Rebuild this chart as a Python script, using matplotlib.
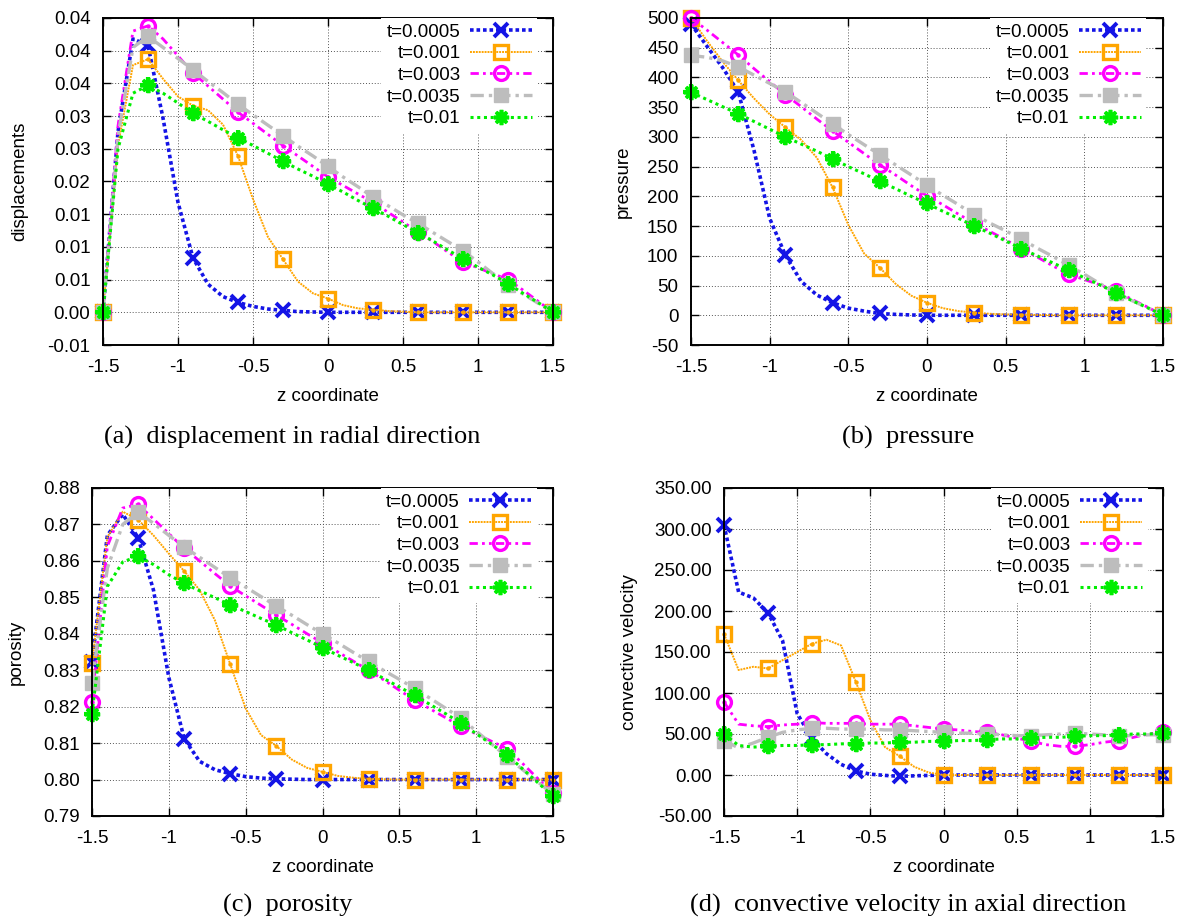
import numpy as np
import matplotlib
matplotlib.use('Agg')
import matplotlib.pyplot as plt

plt.rcParams['font.family'] = ['Liberation Sans', 'DejaVu Sans']

# z coordinate of the samples (markers are drawn on every third one)
z = [-1.5, -1.4, -1.3, -1.2, -1.1, -1.0, -0.9, -0.8, -0.7, -0.6, -0.5,
     -0.4, -0.3, -0.2, -0.1, 0.0, 0.1, 0.2, 0.3, 0.4, 0.5,
     0.6, 0.7, 0.8, 0.9, 1.0, 1.1, 1.2, 1.3, 1.4, 1.5]

labels = ['t=0.0005', 't=0.001', 't=0.003', 't=0.0035', 't=0.01']

# (a) displacement in radial direction
disp_0005 = [0, 0.0276, 0.0418, 0.0408, 0.0297, 0.0168, 0.0083, 0.0043, 0.0024, 0.0015, 0.0009,
             0.0005, 0.0003, 0.0001, 0.00005, 0, 0, 0, 0, 0, 0,
             0, 0, 0, 0, 0, 0, 0, 0, 0, 0]
disp_001 = [0, 0.0256, 0.0378, 0.0387, 0.0357, 0.0330, 0.0316, 0.0309, 0.0287, 0.0239, 0.0173,
            0.0115, 0.0081, 0.0047, 0.0029, 0.0021, 0.0011, 0.0006, 0.0004, 0.0002, 0.0001,
            0, 0, 0, 0, 0, 0, 0, 0, 0, 0]
disp_003 = [0, 0.0285, 0.0430, 0.0438, 0.0418, 0.0392, 0.0366, 0.0346, 0.0326, 0.0306, 0.0289,
            0.0272, 0.0255, 0.0239, 0.0223, 0.0207, 0.0194, 0.0181, 0.0168, 0.0153, 0.0138,
            0.0123, 0.0108, 0.0092, 0.0077, 0.0068, 0.0059, 0.0050, 0.0034, 0.0017, 0]
disp_0035 = [0, 0.0270, 0.0405, 0.0422, 0.0405, 0.0388, 0.0371, 0.0353, 0.0336, 0.0318, 0.0302,
             0.0286, 0.0270, 0.0254, 0.0239, 0.0223, 0.0207, 0.0192, 0.0176, 0.0163, 0.0149,
             0.0136, 0.0122, 0.0108, 0.0094, 0.0077, 0.0059, 0.0042, 0.0028, 0.0014, 0]
disp_01 = [0, 0.0250, 0.0335, 0.0347, 0.0335, 0.0320, 0.0304, 0.0292, 0.0279, 0.0267, 0.0255,
           0.0243, 0.0231, 0.0219, 0.0208, 0.0196, 0.0184, 0.0171, 0.0159, 0.0147, 0.0134,
           0.0122, 0.0109, 0.0095, 0.0082, 0.0069, 0.0057, 0.0044, 0.0029, 0.0015, 0]

# (b) pressure
pres_0005 = [490, 453, 417, 376, 278, 163, 101, 57, 34, 21, 12,
             7, 3, 1.5, 0.5, 0, 0, 0, 0, 0, 0,
             0, 0, 0, 0, 0, 0, 0, 0, 0, 0]
pres_001 = [500, 462, 427, 395, 365, 338, 316, 295, 265, 215, 152,
            104, 80, 53, 33, 21, 12, 7, 4.5, 2.5, 1.5,
            1, 0.5, 0, 0, 0, 0, 0, 0, 0, 0]
pres_003 = [500, 480, 459, 438, 415, 393, 371, 351, 330, 310, 291,
            272, 253, 236, 218, 201, 186, 170, 155, 141, 127,
            112, 98, 83, 69, 60, 51, 41, 27, 14, 0]
pres_0035 = [437, 434, 428, 418, 404, 390, 376, 358, 340, 322, 304,
             287, 270, 253, 236, 219, 202, 186, 169, 155, 142,
             128, 113, 99, 84, 69, 53, 38, 25, 13, 0]
pres_01 = [375, 363, 351, 339, 326, 313, 300, 288, 276, 263, 250,
           238, 225, 213, 200, 188, 175, 163, 150, 138, 125,
           112, 100, 88, 76, 63, 51, 38, 25, 13, 0]

# (c) porosity
poro_0005 = [0.8323, 0.8670, 0.8728, 0.8664, 0.8520, 0.8280, 0.8112, 0.8050, 0.8027, 0.8016, 0.8008,
             0.8004, 0.8002, 0.8001, 0.8000, 0.8000, 0.8000, 0.8000, 0.8000, 0.8000, 0.8000,
             0.8000, 0.8000, 0.8000, 0.8000, 0.8000, 0.8000, 0.8000, 0.8000, 0.8000, 0.8000]
poro_001 = [0.8320, 0.8665, 0.8735, 0.8713, 0.8670, 0.8620, 0.8572, 0.8520, 0.8437, 0.8316, 0.8195,
            0.8122, 0.8092, 0.8055, 0.8032, 0.8021, 0.8010, 0.8005, 0.8002, 0.8001, 0.8000,
            0.8000, 0.8000, 0.8000, 0.8000, 0.8000, 0.8000, 0.8000, 0.8000, 0.8000, 0.8000]
poro_003 = [0.8213, 0.8640, 0.8745, 0.8755, 0.8715, 0.8675, 0.8634, 0.8600, 0.8565, 0.8531, 0.8504,
            0.8478, 0.8451, 0.8426, 0.8400, 0.8375, 0.8350, 0.8325, 0.8300, 0.8273, 0.8245,
            0.8218, 0.8194, 0.8170, 0.8146, 0.8125, 0.8105, 0.8085, 0.8045, 0.8003, 0.7962]
poro_0035 = [0.8265, 0.8580, 0.8700, 0.8734, 0.8703, 0.8670, 0.8638, 0.8610, 0.8582, 0.8554, 0.8528,
             0.8502, 0.8476, 0.8451, 0.8425, 0.8400, 0.8375, 0.8349, 0.8324, 0.8299, 0.8275,
             0.8250, 0.8223, 0.8196, 0.8169, 0.8133, 0.8098, 0.8062, 0.8028, 0.7994, 0.7960]
poro_01 = [0.8181, 0.8530, 0.8597, 0.8613, 0.8590, 0.8562, 0.8538, 0.8518, 0.8499, 0.8479, 0.8461,
           0.8442, 0.8424, 0.8403, 0.8383, 0.8362, 0.8341, 0.8321, 0.8300, 0.8277, 0.8254,
           0.8231, 0.8206, 0.8181, 0.8155, 0.8126, 0.8097, 0.8068, 0.8030, 0.7992, 0.7954]

# (d) convective velocity in axial direction
vel_0005 = [305, 223, 216, 198, 164, 75, 45, 26, 13, 5, 1,
            -0.5, -1.6, -1, -0.5, 0, 0, 0, 0, 0, 0,
            0, 0, 0, 0, 0, 0, 0, 0, 0, 0]
vel_001 = [172, 128, 132, 130, 140, 150, 160, 165, 158, 114, 67,
           34, 23, 10, 3, 0, 0, 0, 0, 0, 0,
           0, 0, 0, 0, 0, 0, 0, 0, 0, 0]
vel_003 = [89, 62, 60, 59, 61, 62, 64, 63, 63, 63, 62,
           62, 62, 60, 58, 56, 55, 53, 52, 49, 45,
           41, 37, 35, 35, 37, 40, 42, 46, 50, 52]
vel_0035 = [42, 33, 39, 46, 52, 55, 57, 57, 56, 56, 56,
            55, 55, 54, 53, 52, 51, 51, 50, 49, 48,
            48, 49, 50, 51, 50, 49, 48, 48, 49, 49]
vel_01 = [50, 36, 34, 35, 36, 36, 37, 37, 38, 38, 39,
          39, 40, 40, 41, 41, 42, 42, 43, 44, 44,
          45, 46, 46, 47, 48, 48, 49, 50, 50, 51]

xticks = [-1.5, -1, -0.5, 0, 0.5, 1, 1.5]
xticklabels = ['-1.5', '-1', '-0.5', '0', '0.5', '1', '1.5']

disp_ticks = [-0.005, 0, 0.005, 0.01, 0.015, 0.02, 0.025, 0.03, 0.035, 0.04, 0.045]
disp_ticklabels = ['-0.01', '0.00', '0.01', '0.01', '0.01', '0.02', '0.03', '0.03', '0.04', '0.04', '0.04']
pres_ticks = [-50, 0, 50, 100, 150, 200, 250, 300, 350, 400, 450, 500]
pres_ticklabels = ['-50', '0', '50', '100', '150', '200', '250', '300', '350', '400', '450', '500']
poro_ticks = [0.79, 0.80, 0.81, 0.82, 0.83, 0.84, 0.85, 0.86, 0.87, 0.88]
poro_ticklabels = ['0.79', '0.80', '0.81', '0.82', '0.83', '0.84', '0.85', '0.86', '0.87', '0.88']
vel_ticks = [-50, 0, 50, 100, 150, 200, 250, 300, 350]
vel_ticklabels = ['-50.00', '0.00', '50.00', '100.00', '150.00', '200.00', '250.00', '300.00', '350.00']

# line / marker styles, gnuplot look
styles = [
    dict(color='#1414e6', ls=(0, (1, 0.8)), lw=2.6, marker='x', ms=10, mew=2.8, mfc='none'),
    dict(color='#ffa500', ls=(0, (1, 0.5)), lw=1.4, marker='s', ms=10, mew=2.4, mfc='none'),
    dict(color='#ff00ff', ls=(0, (3, 1.5, 1, 1.5, 1, 1.5)), lw=2.0, marker='o', ms=10, mew=2.4, mfc='none'),
    dict(color='#bdbdbd', ls=(0, (4, 1.5, 1, 1.5)), lw=2.4, marker='s', ms=9.5, mew=1, mfc='#bdbdbd'),
    dict(color='#00ee00', ls=(0, (1, 1.2)), lw=2.2, marker=(8, 2, 0), ms=11, mew=2.6, mfc='#00ee00'),
]
center_dot = [False, True, True, False, False]

FS = 13.5
W, H = 1187.0, 919.0


def box(left, right, top, bottom):
    return [left / W, 1 - bottom / H, (right - left) / W, (bottom - top) / H]


def panel(rect, series, ylim, yticks, yticklabels, ylabel, ylabel_x):
    ax = fig.add_axes(rect)
    for vals, lab, st, dot in zip(series, labels, styles, center_dot):
        ax.plot(z, vals, label=lab, markevery=3, clip_on=False, **st)
        if dot:
            ax.plot(z, vals, ls='none', marker='o', ms=2.2, color=st['color'],
                    markevery=3, clip_on=False)
        if st['color'] == '#00ee00':
            # gnuplot '*' point: plus and cross drawn together
            ax.plot(z, vals, ls='none', marker='+', ms=11, mew=3, color=st['color'],
                    markevery=3, clip_on=False)
    ax.set_xlim(-1.5, 1.5)
    ax.set_ylim(*ylim)
    ax.set_xticks(xticks)
    ax.set_xticklabels(xticklabels)
    ax.set_yticks(yticks)
    ax.set_yticklabels(yticklabels)
    ax.tick_params(direction='in', length=6, width=1, top=True, right=True,
                   labelsize=FS)
    ax.tick_params(axis='x', pad=10)
    ax.tick_params(axis='y', pad=9)
    ax.grid(True, color='#555555', ls=(0, (1, 2)), lw=0.7)
    for sp in ax.spines.values():
        sp.set_linewidth(1.4)
    ax.set_xlabel('z coordinate', fontsize=FS, labelpad=9)
    ax.set_ylabel(ylabel, fontsize=FS)
    ax.yaxis.set_label_coords(ylabel_x, 0.5)
    # legend: labels right-aligned, sample line on the right
    handles = [h for h in ax.get_lines() if h.get_label() in labels]
    leg = ax.legend(handles, labels, loc='upper right', bbox_to_anchor=(0.965, 1.0),
                    markerfirst=False, fontsize=FS, handlelength=3.3, handletextpad=0.5,
                    labelspacing=0.24, borderpad=0.3, borderaxespad=0, frameon=True,
                    fancybox=False, framealpha=1, facecolor='white', edgecolor='none')
    leg.set_zorder(5)
    return ax


fig = plt.figure(figsize=(W / 100, H / 100), dpi=100)

ax_a = panel(box(103, 553, 18, 345), [disp_0005, disp_001, disp_003, disp_0035, disp_01],
             (-0.005, 0.045), disp_ticks, disp_ticklabels, 'displacements', -0.165)
ax_b = panel(box(691, 1163, 18, 345), [pres_0005, pres_001, pres_003, pres_0035, pres_01],
             (-50, 500), pres_ticks, pres_ticklabels, 'pressure', -0.125)
ax_c = panel(box(92, 553, 488, 816), [poro_0005, poro_001, poro_003, poro_0035, poro_01],
             (0.79, 0.88), poro_ticks, poro_ticklabels, 'porosity', -0.145)
ax_d = panel(box(724, 1163, 488, 816), [vel_0005, vel_001, vel_003, vel_0035, vel_01],
             (-50, 350), vel_ticks, vel_ticklabels, 'convective velocity', -0.196)

captions = ['(a)  displacement in radial direction', '(b)  pressure',
            '(c)  porosity', '(d)  convective velocity in axial direction']
cap_pos = [(292, 437), (908, 437), (288, 905), (908, 905)]
for cap, (cx, cy) in zip(captions, cap_pos):
    fig.text(cx / W, 1 - cy / H, cap, ha='center', va='center', fontsize=19,
             family=['Liberation Serif', 'DejaVu Serif'])

fig.savefig('out.png', dpi=100)
